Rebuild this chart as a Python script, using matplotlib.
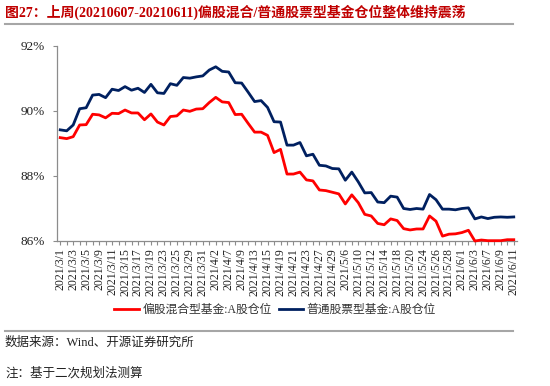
import matplotlib
matplotlib.use("Agg")
import matplotlib.pyplot as plt
from matplotlib.lines import Line2D
from matplotlib.ticker import FixedLocator, FuncFormatter

plt.rcParams['font.family'] = ['Liberation Serif', 'Noto Sans CJK SC', 'DejaVu Sans']

dates = (
    [f"2021/3/{d}" for d in [1, 2, 3, 4, 5, 8, 9, 10, 11, 12, 15, 16, 17, 18, 19, 22, 23, 24, 25, 26, 29, 30, 31]]
    + [f"2021/4/{d}" for d in [1, 2, 6, 7, 8, 9, 12, 13, 14, 15, 16, 19, 20, 21, 22, 23, 26, 27, 28, 29, 30]]
    + [f"2021/5/{d}" for d in [6, 7, 10, 11, 12, 13, 14, 17, 18, 19, 20, 21, 24, 25, 26, 27, 28, 31]]
    + [f"2021/6/{d}" for d in [1, 2, 3, 4, 7, 8, 9, 10, 11]]
)

hybrid = [89.18, 89.15, 89.21, 89.57, 89.58, 89.90, 89.88, 89.79, 89.93, 89.92,
          90.03, 89.94, 89.94, 89.73, 89.91, 89.66, 89.57, 89.83, 89.85, 90.03,
          89.99, 90.06, 90.07, 90.26, 90.42, 90.28, 90.26, 89.89, 89.90, 89.62,
          89.35, 89.35, 89.25, 88.72, 88.82, 88.06, 88.06, 88.12, 87.88, 87.85,
          87.57, 87.55, 87.50, 87.45, 87.14, 87.42, 87.18, 86.82, 86.77, 86.54,
          86.50, 86.68, 86.63, 86.38, 86.34, 86.37, 86.37, 86.77, 86.61, 86.15,
          86.21, 86.22, 86.26, 86.33, 86.00, 86.03, 86.01, 86.01, 86.01, 86.04,
          86.04]

stock = [89.42, 89.39, 89.57, 90.07, 90.10, 90.49, 90.51, 90.41, 90.67, 90.63,
         90.75, 90.64, 90.70, 90.57, 90.82, 90.56, 90.54, 90.84, 90.79, 91.03,
         91.01, 91.05, 91.08, 91.26, 91.36, 91.22, 91.20, 90.87, 90.86, 90.58,
         90.29, 90.32, 90.11, 89.67, 89.66, 88.95, 88.95, 89.03, 88.62, 88.67,
         88.33, 88.31, 88.23, 88.22, 87.87, 88.12, 87.82, 87.48, 87.49, 87.20,
         87.18, 87.38, 87.35, 87.00, 86.97, 87.00, 86.98, 87.43, 87.27, 86.98,
         86.98, 86.96, 87.00, 87.02, 86.68, 86.74, 86.69, 86.73, 86.74, 86.73,
         86.74]

series_names = ["偏股混合型基金:A股仓位", "普通股票型基金:A股仓位"]
yticks = [86, 88, 90, 92]

W, H = 550, 386
fig = plt.figure(figsize=(W / 100, H / 100), dpi=100)

ax_left, ax_right = 57 / W, 517 / W
ax_top, ax_bottom = 1 - 46 / H, 1 - 241 / H
ax = fig.add_axes([ax_left, ax_bottom, ax_right - ax_left, ax_top - ax_bottom])

x = list(range(len(dates)))
l1, = ax.plot(x, hybrid, color='#FF0000', lw=2.0, solid_joinstyle='round', clip_on=False, zorder=3)
l2, = ax.plot(x, stock, color='#002060', lw=2.0, solid_joinstyle='round', clip_on=False, zorder=3)

ax.set_xlim(-0.5, len(dates) - 0.5)
ax.set_ylim(86, 92)
ax.set_yticks(yticks)
ax.yaxis.set_major_formatter(FuncFormatter(lambda v, p: f"{v:.0f}%"))

major = list(range(0, len(dates), 2))
minor = list(range(1, len(dates), 2))
ax.xaxis.set_major_locator(FixedLocator(major))
ax.xaxis.set_minor_locator(FixedLocator(minor))
ax.set_xticklabels([dates[i] for i in major], rotation=90, fontsize=8.5, color='#222222')

for s in ['top', 'right']:
    ax.spines[s].set_visible(False)
for s in ['left', 'bottom']:
    ax.spines[s].set_color('#8c8c8c')
    ax.spines[s].set_linewidth(0.9)

ax.tick_params(axis='x', which='both', direction='out', length=3, width=0.8, color='#8c8c8c', pad=2)
ax.tick_params(axis='y', which='major', direction='out', length=3, width=0.8, color='#8c8c8c',
               labelsize=9.5, labelcolor='#222222', pad=6)

fig.legend([l1, l2], series_names, loc='center', bbox_to_anchor=(0.5, 1 - 310 / H), ncol=2,
           frameon=False, fontsize=8.5, handlelength=2.1, handletextpad=0.3, columnspacing=0.6,
           labelcolor='#333333')

fig.text(5 / W, 1 - 12 / H, "图27：上周(20210607-20210611)偏股混合/普通股票型基金仓位整体维持震荡",
         fontsize=10, fontweight='bold', color='#C00000', ha='left', va='center')

fig.add_artist(Line2D([5 / W, 513 / W], [1 - 24 / H, 1 - 24 / H], color='#A6A6A6', lw=1.5))
fig.add_artist(Line2D([5 / W, 513 / W], [1 - 331 / H, 1 - 331 / H], color='#A6A6A6', lw=1.5))

fig.text(5 / W, 1 - 343 / H, "数据来源：Wind、开源证券研究所", fontsize=9, color='#222222',
         ha='left', va='center')
fig.text(5 / W, 1 - 373 / H, "注：基于二次规划法测算", fontsize=9, color='#222222',
         ha='left', va='center')

fig.savefig("out.png", dpi=100)
